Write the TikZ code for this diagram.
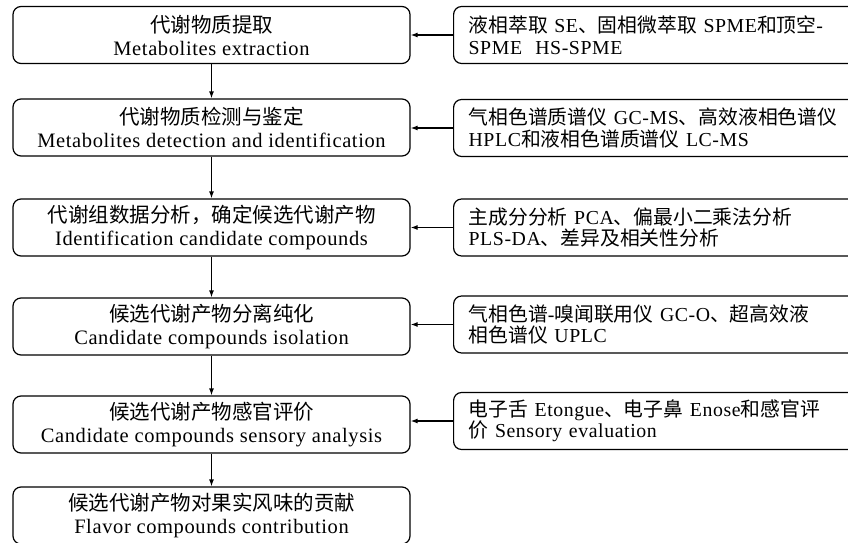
\documentclass[tikz,border=0pt]{standalone}
\usepackage{fontspec}
\setmainfont{Liberation Serif}[LetterSpace=3]
\newfontfamily\cjk{Noto Sans CJK SC}
\newcommand{\zh}[1]{{\cjk #1}}
\usetikzlibrary{arrows.meta,positioning}

\begin{document}
\begin{tikzpicture}[x=1pt,y=1pt,font=\fontsize{20.5}{23}\selectfont,
 >={Latex[length=7pt,width=5pt]},
 stage/.style={draw,line width=1.2pt,rounded corners=8pt,minimum width=397pt,minimum height=57pt,align=center,inner sep=0pt},
 method/.style={draw,line width=1.2pt,rounded corners=8pt,minimum height=57pt,text width=400pt,align=left,inner xsep=15pt,inner ysep=0pt,anchor=west,font=\fontsize{19.8}{21.5}\selectfont}]
\useasboundingbox (0,0) rectangle (848,-543);
\node[stage] (s1) at (211.5,-35) {\zh{代谢物质提取}\\Metabolites extraction};
\node[stage] (s2) at (211.5,-127.5) {\zh{代谢物质检测与鉴定}\\Metabolites detection and identification};
\node[stage] (s3) at (211.5,-227.5) {\zh{代谢组数据分析，确定候选代谢产物}\\Identification candidate compounds};
\node[stage] (s4) at (211.5,-326.5) {\zh{候选代谢产物分离纯化}\\Candidate compounds isolation};
\node[stage] (s5) at (211.5,-424.5) {\zh{候选代谢产物感官评价}\\Candidate compounds sensory analysis};
\node[stage] (s6) at (211.5,-515.5) {\zh{候选代谢产物对果实风味的贡献}\\Flavor compounds contribution};
\node[method] (m1) at (453,-35) {\zh{液相萃取} SE\zh{、固相微萃取} SPME\zh{和顶空}-\\SPME\ \ HS-SPME};
\node[method] (m2) at (453,-128) {\zh{气相色谱质谱仪} GC-MS\zh{、高效液相色谱仪}\\HPLC\zh{和液相色谱质谱仪} LC-MS};
\node[method] (m3) at (453,-227.5) {\zh{主成分分析} PCA\zh{、偏最小二乘法分析}\\PLS-DA\zh{、差异及相关性分析}};
\node[method] (m4) at (453,-324.5) {\zh{气相色谱}-\zh{嗅闻联用仪} GC-O\zh{、超高效液}\\\zh{相色谱仪} UPLC};
\node[method] (m5) at (453,-421) {\zh{电子舌} Etongue\zh{、电子鼻} Enose\zh{和感官评}\\\zh{价} Sensory evaluation};
% main flow
\draw[->,line width=1.2pt] (s1)--(s2);\draw[->,line width=1.2pt] (s2)--(s3);\draw[->,line width=1.2pt] (s3)--(s4);
\draw[->,line width=1.2pt] (s4)--(s5);\draw[->,line width=1.2pt] (s5)--(s6);
% methods feed in
\draw[->,line width=1.2pt] (m1.west)--(m1.west -| s1.east);\draw[->,line width=1.2pt] (m2.west)--(m2.west -| s2.east);
\draw[->,line width=1.2pt] (m3.west)--(m3.west -| s3.east);\draw[->,line width=1.2pt] (m4.west)--(m4.west -| s4.east);
\draw[->,line width=1.2pt] (m5.west)--(m5.west -| s5.east);
\end{tikzpicture}
\end{document}
